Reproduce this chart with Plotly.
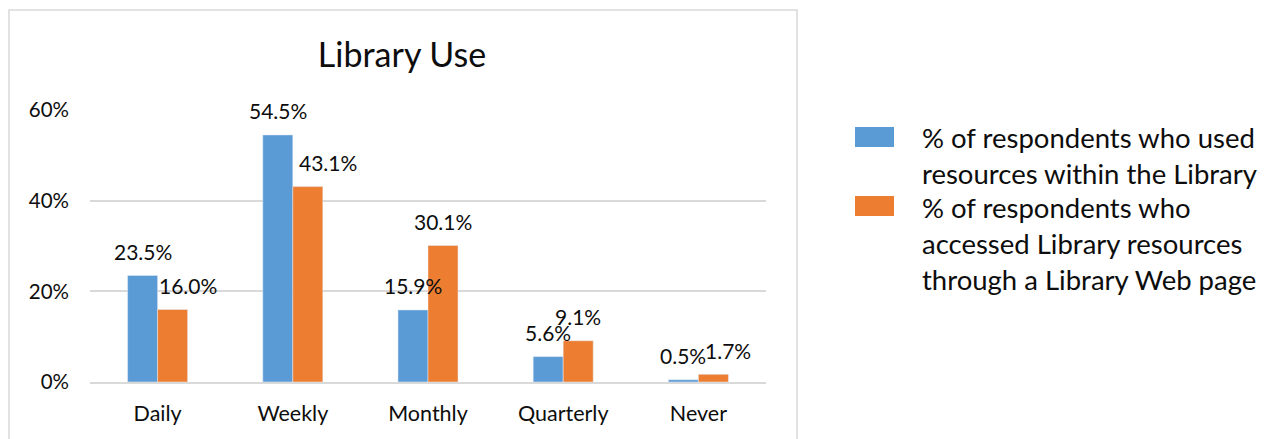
import plotly.graph_objects as go

categories = ["Daily", "Weekly", "Monthly", "Quarterly", "Never"]
in_library = [23.5, 54.5, 15.9, 5.6, 0.5]
web_page = [16.0, 43.1, 30.1, 9.1, 1.7]
series_names = [
    "% of respondents who used<br>resources within the Library",
    "% of respondents who<br>accessed Library resources<br>through a Library Web page",
]
y_ticks = [0, 20, 40, 60]
y_tick_labels = ["0%", "20%", "40%", "60%"]

BLUE = "#5B9BD5"
ORANGE = "#ED7D31"
FONT = "Lato"
TXT = "#0d0d0d"

W, H = 1269, 439
L, R, T, B = 90, 1269 - 766, 110, 439 - 382
PW, PH = W - L - R, H - T - B


def px_x(x):
    return (x - L) / PW


def px_y(y):
    return (H - B - y) / PH


fig = go.Figure()
fig.add_trace(go.Bar(x=categories, y=in_library, name=series_names[0],
                     marker_color=BLUE, showlegend=False))
fig.add_trace(go.Bar(x=categories, y=web_page, name=series_names[1],
                     marker_color=ORANGE, showlegend=False))

# data labels
half = PW / len(categories) * (1 - 0.556) / 4
orange_dx = [15, 20, 0, 0, 15]
annotations = []
for i, c in enumerate(categories):
    annotations.append(dict(x=c, y=in_library[i], text=f"{in_library[i]:.1f}%",
                            xshift=-half, yshift=24, showarrow=False,
                            xanchor="center", yanchor="middle",
                            font=dict(family=FONT, size=21, color=TXT)))
    annotations.append(dict(x=c, y=web_page[i], text=f"{web_page[i]:.1f}%",
                            xshift=half + orange_dx[i], yshift=24, showarrow=False,
                            xanchor="center", yanchor="middle",
                            font=dict(family=FONT, size=21, color=TXT)))

# manual legend
legend_text_tops = [119, 189]
swatch_y = [(127, 147), (196, 216)]
for name, color, top, (sy0, sy1) in zip(series_names, [BLUE, ORANGE], legend_text_tops, swatch_y):
    annotations.append(dict(xref="paper", yref="paper", x=px_x(920), y=px_y(top),
                            text=name, showarrow=False, xanchor="left", yanchor="top",
                            align="left", font=dict(family=FONT, size=27.5, color=TXT)))
    fig.add_shape(type="rect", xref="paper", yref="paper",
                  x0=px_x(855), x1=px_x(894), y0=px_y(sy1), y1=px_y(sy0),
                  fillcolor=color, line=dict(width=0))

# chart border
fig.add_shape(type="rect", xref="paper", yref="paper",
              x0=px_x(9), x1=px_x(797), y0=px_y(480), y1=px_y(10),
              line=dict(color="#d9d9d9", width=1.5), fillcolor="rgba(0,0,0,0)", layer="below")

fig.update_layout(
    width=W, height=H,
    margin=dict(l=L, r=R, t=T, b=B, pad=0, autoexpand=False),
    paper_bgcolor="white", plot_bgcolor="white",
    barmode="group", bargap=0.556, bargroupgap=0,
    title=dict(text="Library Use", xref="container", yref="container",
               x=402 / W, y=1 - 55 / H, xanchor="center", yanchor="middle",
               font=dict(family=FONT, size=34, color=TXT)),
    annotations=annotations,
    font=dict(family=FONT, color=TXT),
)
fig.update_xaxes(showgrid=False, ticks="", showline=True, linecolor="#d9d9d9", linewidth=1.5,
                 tickfont=dict(family=FONT, size=21.5, color=TXT), ticklabelstandoff=11,
                 range=[-0.5, 4.5], automargin=False)
fig.update_yaxes(range=[0, 60], tickvals=y_ticks, ticktext=y_tick_labels,
                 showgrid=True, gridcolor="#d9d9d9", gridwidth=1.5, zeroline=False,
                 ticks="", showline=False, automargin=False,
                 tickfont=dict(family=FONT, size=20.5, color=TXT), ticklabelstandoff=20)

fig.write_html("out.html", config={"displayModeBar": False},
               post_script="document.body.style.margin='0px';document.body.style.overflow='hidden';")
